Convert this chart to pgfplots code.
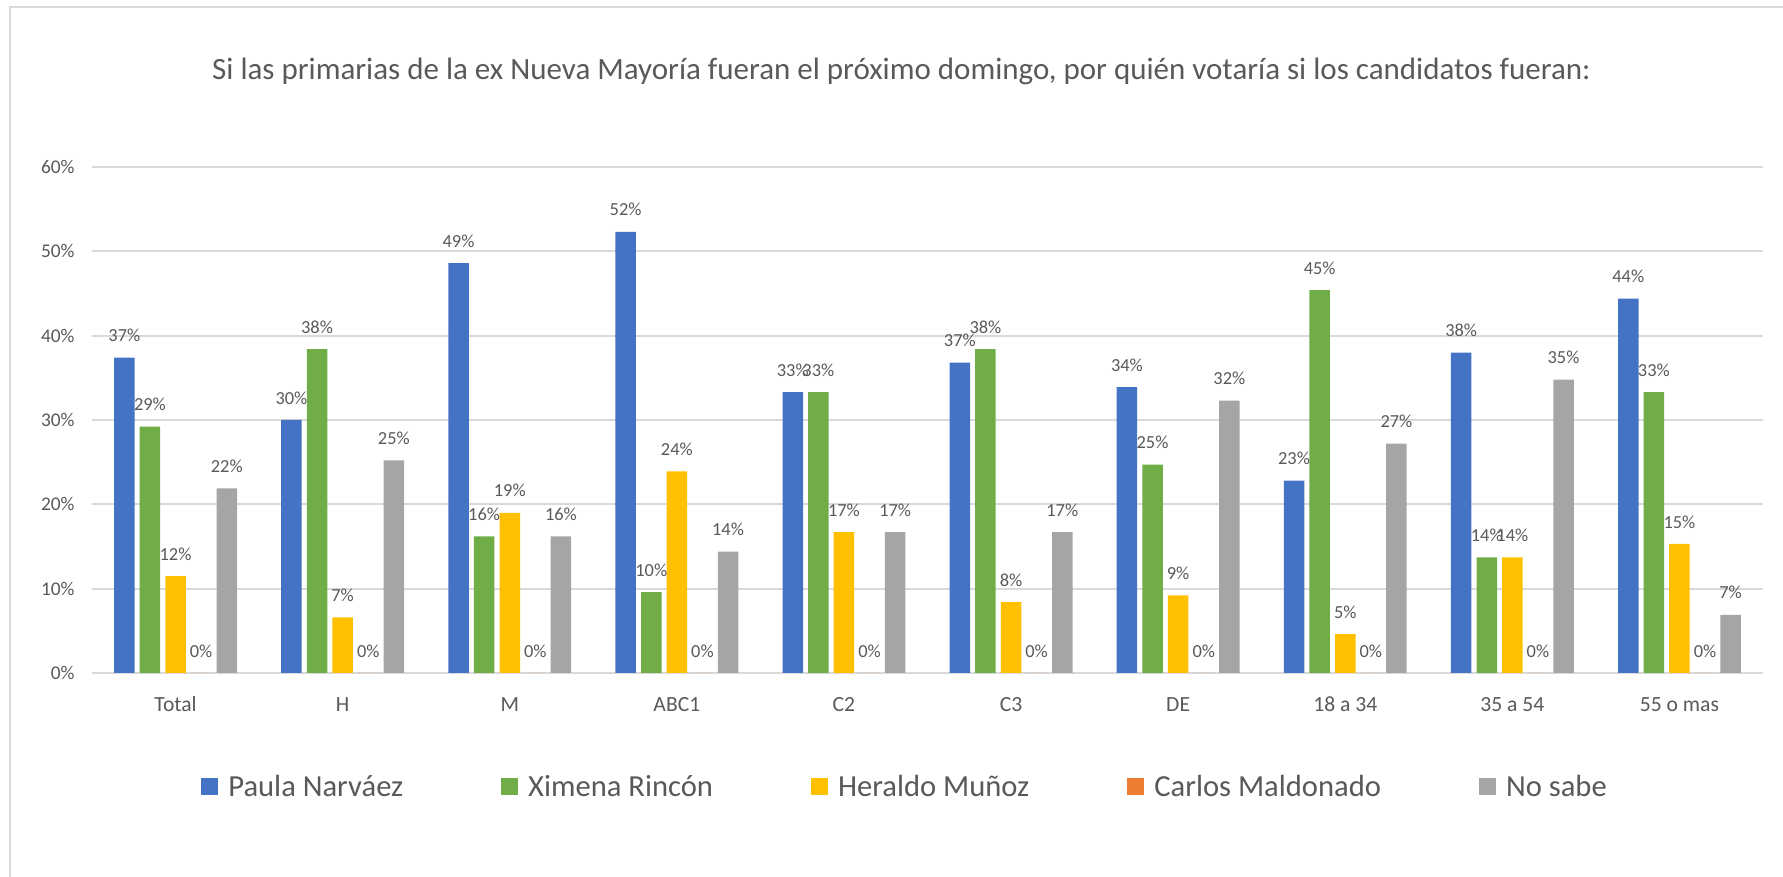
\documentclass[border=0pt]{standalone}
\usepackage{fontspec}
\setmainfont{Carlito}
\usepackage{pgfplots}
\usepackage{pgfplotstable}
\pgfplotsset{compat=1.18}
\definecolor{cblue}{HTML}{4472C4}
\definecolor{cgreen}{HTML}{70AD47}
\definecolor{cyellow}{HTML}{FFC000}
\definecolor{corange}{HTML}{ED7D31}
\definecolor{cgray}{HTML}{A5A5A5}
\definecolor{textgray}{HTML}{595959}
\definecolor{gridgray}{HTML}{D9D9D9}
\pgfplotstableread{
x pn xr hm cm ns
0 37.4 29.2 11.5 0 21.9
1 30.0 38.4 6.6 0 25.2
2 48.6 16.2 19.0 0 16.2
3 52.3 9.6 23.9 0 14.4
4 33.3 33.3 16.7 0 16.7
5 36.8 38.4 8.4 0 16.7
6 33.9 24.7 9.2 0 32.3
7 22.8 45.4 4.6 0 27.2
8 38.0 13.7 13.7 0 34.8
9 44.4 33.3 15.3 0 6.9
}\datatable
\begin{document}
\begin{tikzpicture}
\useasboundingbox (-46pt,-102pt) rectangle (845.5pt,336.5pt);
\draw[gridgray, line width=1pt] (-41pt,-102pt) -- (-41pt,333pt) -- (845.5pt,333pt);
\begin{axis}[
  scale only axis,
  width=835.5pt, height=253pt,
  xmin=-0.5, xmax=9.5, ymin=0, ymax=60,
  ybar=2.55pt, bar width=10.25pt,
  xtick=data,
  xticklabels={Total,H,M,ABC1,C2,C3,DE,18 a 34,35 a 54,55 o mas},
  ytick={0,10,...,60},
  yticklabel={\pgfmathprintnumber{\tick}\%},
  /pgf/number format/assume math mode=true,
  major tick length=0pt,
  axis line style={draw=none},
  ymajorgrids,
  grid style={gridgray, line width=1pt},
  yticklabel style={anchor=east, inner sep=0pt, xshift=-8.5pt, font=\fontsize{9.7}{11}\selectfont, text=textgray},
  xticklabel style={anchor=base, inner sep=0pt, yshift=-19.5pt, font=\fontsize{10.8}{12}\selectfont, text=textgray},
  point meta=y,
  nodes near coords={\pgfmathprintnumber[fixed,precision=0]{\pgfplotspointmeta}\%},
  every node near coord/.append style={font=\fontsize{9.2}{11}\selectfont, text=textgray, anchor=south, inner sep=0pt, yshift=7.7pt},
  title={Si las primarias de la ex Nueva Mayoría fueran el próximo domingo, por quién votaría si los candidatos fueran:},
  title style={at={(axis description cs:0.4844,1.150)}, anchor=base, yshift=0pt, inner sep=0pt, font=\fontsize{15.5}{18}\selectfont, text=textgray},
  legend columns=5,
  legend style={at={(axis description cs:0.0652,-0.2253)}, anchor=west, draw=none, fill=none, inner sep=0pt,
    font=\fontsize{15.3}{18}\selectfont, text=textgray, nodes={inner sep=0pt},
    /tikz/every odd column/.append style={column sep=5pt},
    /tikz/every even column/.append style={column sep=49pt}},
  legend image code/.code={\fill[#1] (0pt,-4.25pt) rectangle (8.5pt,4.25pt);},
]
\addplot[fill=cblue, draw=none] table[x=x,y=pn] {\datatable};
\addplot[fill=cgreen, draw=none] table[x=x,y=xr] {\datatable};
\addplot[fill=cyellow, draw=none] table[x=x,y=hm] {\datatable};
\addplot[fill=corange, draw=none] table[x=x,y=cm] {\datatable};
\addplot[fill=cgray, draw=none] table[x=x,y=ns] {\datatable};
\legend{Paula Narváez,Ximena Rincón,Heraldo Muñoz,Carlos Maldonado,No sabe}
\end{axis}
\end{tikzpicture}
\end{document}
